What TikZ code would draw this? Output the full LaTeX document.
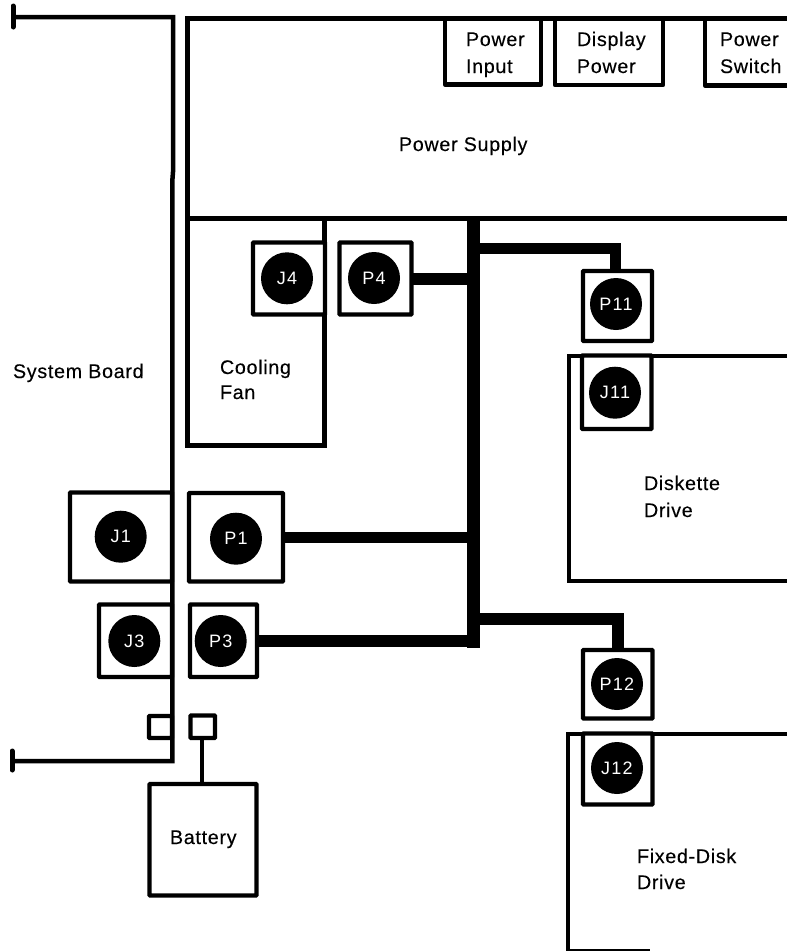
\documentclass[tikz,border=0pt]{standalone}
\usepackage{fontspec}
\setmainfont{Liberation Sans}[LetterSpace=3.5,FakeBold=0.25]
\newfontfamily\pinfont{Liberation Sans}[LetterSpace=7]
\tikzset{
  x=1pt,y=-1pt,
  frame/.style={draw=black,line width=4.5pt,line join=round,line cap=round},
  thinframe/.style={frame,line width=4pt},
  bx/.style={draw=black,fill=white,line width=4.3pt,rounded corners=0.6pt,inner sep=0pt,outer sep=0pt},
  pin/.style={circle,fill=black,text=white,inner sep=0pt,outer sep=0pt,minimum size=52pt,font=\pinfont\fontsize{18}{20}\selectfont},
  lbl/.style={anchor=base west,inner sep=0pt,outer sep=0pt,font=\fontsize{19.7}{22}\selectfont},
  wire/.style={draw=black,line width=12pt,line join=miter},
  lead/.style={draw=black,line width=4pt},
  tbar/.style={draw=black,line width=5pt,line cap=round},
}
\newcommand{\pbox}[5]{%
  \pgfmathsetmacro{\pbw}{#4-#2}\pgfmathsetmacro{\pbh}{#5-#3}%
  \pgfmathsetmacro{\pbx}{(#2+#4)/2}\pgfmathsetmacro{\pby}{(#3+#5)/2}%
  \node[bx,minimum width=\pbw pt,minimum height=\pbh pt] (#1) at (\pbx,\pby) {};}
\begin{document}
\begin{tikzpicture}
\useasboundingbox (0,0) rectangle (787,951);
% system board
\coordinate (sbTop) at (13,17);
\coordinate (sbBot) at (12,761);
\draw[tbar] (13,6) -- (13,27);
\draw[tbar] (12,751) -- (12,770);
\draw[frame,line cap=butt,line join=miter] (sbTop) -- (173,17) -- (173,172) -- (172.3,181) -- (172.3,761) -- (sbBot);
% power supply and fan
\draw[frame,line width=5pt,line cap=butt,line join=miter] (787,18.5) -- (187.5,18.5) -- (187.5,445.5) -- (324.8,445.5) -- (324.8,218.5);
\draw[frame,line width=5pt,line cap=butt] (187.5,218.5) -- (787,218.5);
% drive outlines
\draw[thinframe,line cap=butt,line join=miter] (787,355.5) -- (569,355.5) -- (569,581) -- (787,581);
\draw[thinframe,line cap=butt,line join=miter] (787,733.5) -- (567.5,733.5) -- (567.5,951);
\draw[line width=2pt] (567.5,950) -- (650,950);
% power supply sockets
\draw[frame,line cap=butt,line join=round] (445,18.5) -- (445,84.5) -- (541,84.5) -- (541,18.5);
\draw[frame,line cap=butt,line join=round] (555,18.5) -- (555,85) -- (663,85) -- (663,18.5);
\draw[frame,line cap=butt,line join=round] (705,18.5) -- (705,85.5) -- (787,85.5);
% connector boxes
\pbox{J4}{253}{242.5}{325}{314.5}
\pbox{P4}{339.5}{242.5}{411.5}{314.5}
\pbox{P11}{583}{271}{652}{341}
\pbox{J11}{582}{355.5}{651.5}{429}
\pbox{P12}{583}{650}{652.5}{718.5}
\pbox{J12}{583}{733.5}{652.5}{804.5}
\pbox{J1}{70}{492.5}{172}{581.5}
\pbox{P1}{189}{493}{283}{581.5}
\pbox{J3}{99}{604.5}{172}{677}
\pbox{P3}{190}{604.5}{257}{677}
\pbox{SL}{149}{716}{172}{738}
\pbox{SR}{190.5}{715.5}{215}{738}
\pbox{Bat}{149.5}{784}{256.5}{895.5}
% pins
\node[pin] (cJ4) at (287,278.3) {J4};
\node[pin] (cP4) at (374,278) {P4};
\node[pin] (cP11) at (616,304) {P11};
\node[pin] (cJ11) at (615,392.7) {J11};
\node[pin] (cP12) at (617,684) {P12};
\node[pin] (cJ12) at (617,768) {J12};
\node[pin] (cJ1) at (120.7,536.7) {J1};
\node[pin] (cP1) at (236,538.7) {P1};
\node[pin] (cJ3) at (134.3,641) {J3};
\node[pin] (cP3) at (220.7,641) {P3};
% harness
\coordinate (busTop) at (473,219);
\coordinate (busEnd) at (473,648);
\coordinate (p11in) at (615.3,271);
\draw[wire,line width=13pt] (busTop) -- (busEnd);
\draw[wire] (P4.east) -- (P4.east -| busTop);
\draw[wire,line width=11pt] (P1.east) -- (P1.east -| busTop);
\draw[wire] (P3.east) -- (P3.east -| busEnd);
\draw[wire,line width=11.5pt] (busTop |- 0,248.5) -| (p11in);
\draw[wire] (busTop |- 0,619) -| (P12.north);
\draw[lead] (SR.south -| 202,0) -- (Bat.north -| 202,0);
% labels
\node[lbl] (tPI1) at (466,46) {Power};
\node[lbl] (tPI2) at (466,73) {Input};
\node[lbl] (tDP1) at (577,46) {Display};
\node[lbl] (tDP2) at (577,73) {Power};
\node[lbl] (tPS1) at (720,46) {Power};
\node[lbl] (tPS2) at (720,73) {Switch};
\node[lbl] (tSup) at (399,151) {Power Supply};
\node[lbl] (tSys) at (13,378) {System Board};
\node[lbl] (tCF1) at (220,374) {Cooling};
\node[lbl] (tCF2) at (220,399) {Fan};
\node[lbl] (tDD1) at (644,490) {Diskette};
\node[lbl] (tDD2) at (644,517) {Drive};
\node[lbl] (tFD1) at (637,863) {Fixed-Disk};
\node[lbl] (tFD2) at (637,889) {Drive};
\node[lbl] (tBat) at (170,844) {Battery};
\end{tikzpicture}
\end{document}
